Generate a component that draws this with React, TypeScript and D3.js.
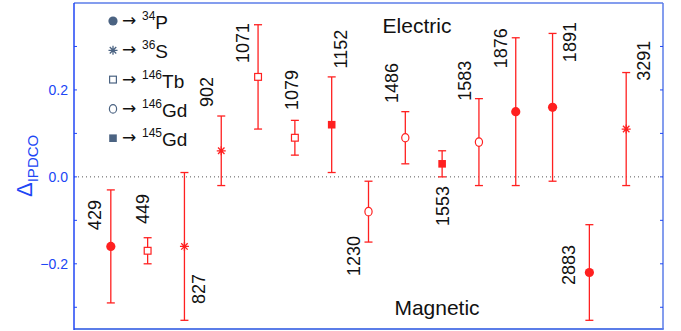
import React from "react";
import * as d3 from "d3";

// gamma-ray energies (keV), polarization asymmetry and its error
const energies = ["429", "449", "827", "902", "1071", "1079", "1152", "1230", "1486", "1553", "1583", "1876", "1891", "2883", "3291"];
const asym = [-0.16, -0.17, -0.16, 0.06, 0.23, 0.09, 0.12, -0.08, 0.09, 0.03, 0.08, 0.15, 0.16, -0.22, 0.11];
const asymErr = [0.13, 0.03, 0.17, 0.08, 0.12, 0.04, 0.11, 0.07, 0.06, 0.03, 0.10, 0.17, 0.17, 0.11, 0.13];
const nucleus = ["34P", "146Tb", "36S", "36S", "146Tb", "146Tb", "145Gd", "146Gd", "146Gd", "145Gd", "146Gd", "34P", "34P", "34P", "36S"];

const legendNuclei = ["34P", "36S", "146Tb", "146Gd", "145Gd"];
const markerOf: Record<string, string> = {
  "34P": "filledCircle",
  "36S": "star",
  "146Tb": "openSquare",
  "146Gd": "openCircle",
  "145Gd": "filledSquare",
};

const yTicks = [-0.2, 0.0, 0.2];
const yMinorTicks = [-0.3, -0.2, -0.1, 0.0, 0.1, 0.2, 0.3];

// where each energy label sits: [x offset px, centre in Δ units]
const labelLayout: [number, number][] = [
  [-16, -0.088], [-5, -0.074], [15, -0.258], [-14, 0.195], [-15, 0.308],
  [-3, 0.2], [9, 0.294], [-15, -0.182], [-13, 0.216], [1, -0.067],
  [-14, 0.221], [-15, 0.296], [17, 0.31], [-20, -0.203], [18, 0.267],
];

const W = 681;
const H = 331;
const left = 74;
const right = 663;
const top = 3;
const bottom = 329;

const RED = "#ff2020";
const BLUE = "#2046f5";
const FRAME = "#5b7de8";
const LEG = "#4b6382";
const FONT = "'Liberation Sans', Arial, sans-serif";

function Marker({ kind, x, y, color }: { kind: string; x: number; y: number; color: string }) {
  if (kind === "filledCircle") return <circle cx={x} cy={y} r={4.6} fill={color} />;
  if (kind === "openCircle")
    return <ellipse cx={x} cy={y} rx={3.6} ry={4.2} fill="white" stroke={color} strokeWidth={1.2} />;
  if (kind === "openSquare")
    return <rect x={x - 3.4} y={y - 3.4} width={6.8} height={6.8} fill="white" stroke={color} strokeWidth={1.2} />;
  if (kind === "filledSquare")
    return <rect x={x - 3.8} y={y - 3.8} width={7.6} height={7.6} fill={color} />;
  const r = 4.5;
  const d = r * 0.72;
  return (
    <path
      d={`M${x - r},${y}H${x + r}M${x},${y - r}V${y + r}M${x - d},${y - d}L${x + d},${y + d}M${x - d},${y + d}L${x + d},${y - d}`}
      stroke={color}
      strokeWidth={1.3}
      fill="none"
    />
  );
}

export default function App() {
  const x = d3.scalePoint<string>().domain(energies).range([left, right]).padding(1);
  const y = d3.scaleLinear().domain([-0.35, 0.4]).range([bottom, top]);
  const fmt = d3.format(".1f");

  return (
    <svg width={W} height={H} style={{ position: "absolute", left: 0, top: 0, background: "white" }} fontFamily={FONT}>
      {/* zero line */}
      <line x1={left} x2={right} y1={y(0)} y2={y(0)} stroke="#555" strokeWidth={1} strokeDasharray="1 3" />

      {/* frame */}
      <line x1={left} x2={right} y1={top} y2={top} stroke={FRAME} strokeWidth={1.5} />
      <line x1={right} x2={right} y1={top} y2={bottom} stroke={FRAME} strokeWidth={1.5} />
      <line x1={left} x2={right + 0.75} y1={bottom} y2={bottom} stroke={FRAME} strokeWidth={2.2} />
      <line x1={left} x2={left} y1={top} y2={bottom + 1} stroke={BLUE} strokeWidth={1.5} />

      {yMinorTicks.map((t) => (
        <g key={t}>
          <line x1={left} x2={left + 3} y1={y(t)} y2={y(t)} stroke={BLUE} strokeWidth={1} />
          <line x1={right - 3} x2={right} y1={y(t)} y2={y(t)} stroke={BLUE} strokeWidth={1} />
        </g>
      ))}
      {yTicks.map((t) => (
        <text key={t} x={left - 6} y={y(t)} textAnchor="end" dominantBaseline="central" fontSize={14} fill={BLUE}>
          {fmt(t).replace("-", "\u2212")}
        </text>
      ))}

      {/* y label */}
      <text transform={`translate(32,197) rotate(-90)`} fill={BLUE}>
        <tspan fontSize={22}>Δ</tspan>
        <tspan fontSize={15} dy={6}>IPDCO</tspan>
      </text>

      {/* error bars */}
      {energies.map((e, i) => {
        const cx = x(e)!;
        const y0 = y(asym[i] - asymErr[i]);
        const y1 = y(asym[i] + asymErr[i]);
        return (
          <g key={e} stroke={RED} strokeWidth={1.3}>
            <line x1={cx} x2={cx} y1={y0} y2={y1} />
            <line x1={cx - 4} x2={cx + 4} y1={y0} y2={y0} />
            <line x1={cx - 4} x2={cx + 4} y1={y1} y2={y1} />
          </g>
        );
      })}
      {energies.map((e, i) => (
        <Marker key={e} kind={markerOf[nucleus[i]]} x={x(e)!} y={y(asym[i])} color={RED} />
      ))}

      {/* energy labels */}
      {energies.map((e, i) => {
        const [dx, v] = labelLayout[i];
        return (
          <text
            key={e}
            transform={`translate(${x(e)! + dx},${y(v)}) rotate(-90)`}
            textAnchor="middle"
            dominantBaseline="central"
            fontSize={18}
            fill="#111"
          >
            {e}
          </text>
        );
      })}

      <text x={417} y={33} textAnchor="middle" fontSize={21} fill="#111">Electric</text>
      <text x={437} y={315} textAnchor="middle" fontSize={21} fill="#111">Magnetic</text>

      {/* legend */}
      {legendNuclei.map((n, i) => {
        const cy = 21 + i * 29.3;
        const m = n.match(/^(\d+)(\D+)$/)!;
        return (
          <g key={n}>
            <Marker kind={markerOf[n]} x={113} y={cy} color={LEG} />
            <text x={122} y={cy + 5} fontSize={17} fontFamily="'DejaVu Sans', sans-serif" fill="#111">→</text>
            <text x={142} y={cy + 8} fill="#111">
              <tspan fontSize={12} dy={-9}>{m[1]}</tspan>
              <tspan fontSize={19} dy={9}>{m[2]}</tspan>
            </text>
          </g>
        );
      })}
    </svg>
  );
}
